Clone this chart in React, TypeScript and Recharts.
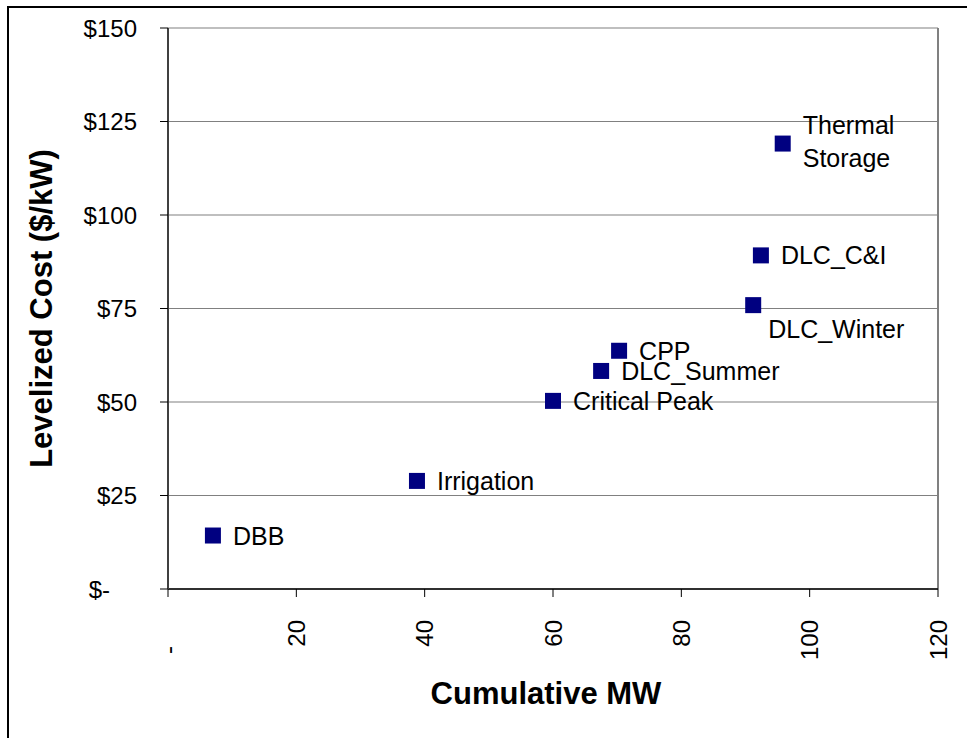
import { ScatterChart, Scatter, XAxis, YAxis, CartesianGrid, ReferenceLine, Label } from 'recharts'

const PROGRAMS = ['DBB', 'Irrigation', 'Critical Peak', 'DLC_Summer', 'CPP', 'DLC_Winter', 'DLC_C&I', 'Thermal Storage']
const CUMULATIVE_MW = [7.0, 38.8, 60.0, 67.5, 70.3, 91.2, 92.4, 95.8]
const LEVELIZED_COST = [14.3, 28.9, 50.3, 58.3, 63.7, 75.9, 89.2, 119.1]
const X_TICKS = [0, 20, 40, 60, 80, 100, 120]
const Y_TICKS = [0, 25, 50, 75, 100, 125, 150]

const data = PROGRAMS.map((name, i) => ({ name, mw: CUMULATIVE_MW[i], cost: LEVELIZED_COST[i] }))

const FONT = '"Liberation Sans", Arial, sans-serif'
const NAVY = '#000080'

// label placement relative to the marker (most sit to the right)
const labelOffset = (name: string) => {
  if (name === 'DLC_Winter') return { dx: 15, dy: 24 }
  return { dx: 20, dy: 0 }
}

const PointShape = (props: any) => {
  const { cx, cy, payload } = props
  const { dx, dy } = labelOffset(payload.name)
  const lines = payload.name === 'Thermal Storage' ? payload.name.split(' ') : [payload.name]
  return (
    <g>
      <rect x={cx - 8} y={cy - 8} width={16} height={16} fill={NAVY} />
      {lines.map((ln: string, i: number) => (
        <text
          key={ln}
          x={cx + dx}
          y={cy + dy + (lines.length > 1 ? (i === 0 ? -19 : 14) : 0)}
          dominantBaseline="central"
          fontSize={25}
          fontFamily={FONT}
          fill="#000"
        >
          {ln}
        </text>
      ))}
    </g>
  )
}

const YTick = ({ x, y, payload }: any) => {
  const v = payload.value
  return (
    <text x={v === 0 ? x - 27 : x} y={y} textAnchor="end" dominantBaseline="central" fontSize={24} fontFamily={FONT} fill="#000">
      {v === 0 ? '$-' : `$${v}`}
    </text>
  )
}

const XTick = ({ x, y, payload }: any) => {
  const v = payload.value
  if (v === 0) {
    return (
      <text x={x} y={y + 30} textAnchor="middle" dominantBaseline="central" fontSize={24} fontFamily={FONT} fill="#000"
        transform={`rotate(-90, ${x}, ${y + 30})`}>
        -
      </text>
    )
  }
  return (
    <text x={x} y={y} textAnchor="end" dominantBaseline="central" fontSize={24} fontFamily={FONT} fill="#000"
      transform={`rotate(-90, ${x}, ${y})`}>
      {v}
    </text>
  )
}

export default function App() {
  return (
    <div style={{ position: 'absolute', left: 0, top: 0, width: 967, height: 738, overflow: 'hidden', background: '#fff' }}>
      <div style={{
        position: 'absolute', left: 7, top: 6, width: 960, height: 732,
        borderTop: '2px solid #000', borderLeft: '2px solid #000', boxSizing: 'border-box',
      }} />
      <div style={{ position: 'absolute', left: 0, top: 0 }}>
        <ScatterChart width={967} height={738} margin={{ top: 28, right: 29, bottom: 0, left: 0 }}>
          <CartesianGrid horizontal vertical={false} stroke="#808080" strokeWidth={1.2} />
          <ReferenceLine x={120} stroke="#808080" strokeWidth={2} />
          <XAxis
            type="number"
            dataKey="mw"
            domain={[0, 120]}
            ticks={X_TICKS}
            height={149}
            tickSize={8}
            tickMargin={23}
            tick={<XTick />}
            axisLine={{ stroke: '#000', strokeWidth: 1.5 }}
            tickLine={{ stroke: '#000' }}
          >
            <Label
              content={({ viewBox }: any) => (
                <text x={viewBox.x + viewBox.width / 2 - 7} y={viewBox.y + 104} textAnchor="middle" dominantBaseline="central"
                  fontSize={31} fontWeight="bold" fontFamily={FONT} fill="#000">
                  Cumulative MW
                </text>
              )}
            />
          </XAxis>
          <YAxis
            type="number"
            dataKey="cost"
            domain={[0, 150]}
            ticks={Y_TICKS}
            width={168}
            tickSize={8}
            tickMargin={23}
            tick={<YTick />}
            axisLine={{ stroke: '#404040', strokeWidth: 2 }}
            tickLine={{ stroke: '#000' }}
          >
            <Label
              content={({ viewBox }: any) => {
                const cx = viewBox.x + 41
                const cy = viewBox.y + viewBox.height / 2
                return (
                  <text x={cx} y={cy} textAnchor="middle" dominantBaseline="central" fontSize={31} fontWeight="bold"
                    fontFamily={FONT} fill="#000" transform={`rotate(-90, ${cx}, ${cy})`}>
                    Levelized Cost ($/kW)
                  </text>
                )
              }}
            />
          </YAxis>
          <Scatter data={data} fill={NAVY} shape={<PointShape />} isAnimationActive={false} />
        </ScatterChart>
      </div>
    </div>
  )
}
